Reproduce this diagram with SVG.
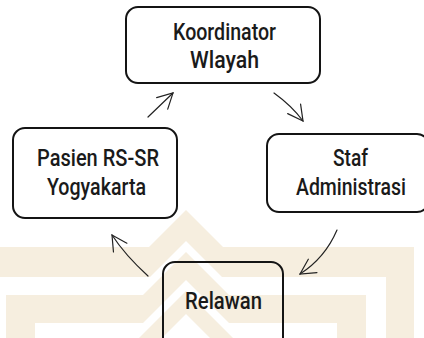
<svg xmlns="http://www.w3.org/2000/svg" width="424" height="338" viewBox="0 0 424 338">
<style>
.wm{fill:#f6eedf;stroke:none}
.box{fill:none;stroke:#141414;stroke-width:2}
.lbl{font-family:Roboto,"Liberation Sans",Arial,sans-serif;font-weight:500;font-size:24px;fill:#1a1a1a;text-anchor:middle}
.con{fill:none;stroke:#222;stroke-width:1.2;stroke-linecap:round}
</style>
<defs>
<marker id="ah" viewBox="-17 -10 19 20" refX="0" refY="0" markerWidth="19" markerHeight="20" markerUnits="userSpaceOnUse" orient="auto">
<path d="M-15,-8 L0,0 L-15,8" fill="none" stroke="#222" stroke-width="1.2" stroke-linecap="round"/>
</marker>
<g id="half">
<polygon class="wm" points="186,210 223,247 414,247 414,338 386,338 386,277 222,277 186,241"/>
<polygon class="wm" points="186,252 229,295 366,295 366,338 337,338 337,323 229,323 186,280"/>
<polygon class="wm" points="186,291 233,338 210,338 186,314"/>
</g>
</defs>
<rect width="424" height="338" fill="#ffffff"/>
<g id="watermark">
<use href="#half"/>
<use href="#half" transform="matrix(-1,0,0,1,372,0)"/>
</g>
<g id="connectors">
<path class="con" d="M148,117 L173,93" marker-end="url(#ah)"/>
<path class="con" d="M274,93 Q292,106 303,121" marker-end="url(#ah)"/>
<path class="con" d="M337,230 Q325,258 300,274" marker-end="url(#ah)"/>
<path class="con" d="M148,276 Q125,255 112,235" marker-end="url(#ah)"/>
</g>
<g id="koordinator">
<rect class="box" x="126" y="7" width="194" height="76" rx="12"/>
<text class="lbl" x="224.5" y="40" textLength="103" lengthAdjust="spacingAndGlyphs">Koordinator</text>
<text class="lbl" x="224.5" y="68" textLength="69" lengthAdjust="spacingAndGlyphs">Wlayah</text>
</g>
<g id="staf">
<rect class="box" x="267" y="134" width="162" height="78" rx="12"/>
<text class="lbl" x="350.5" y="166" textLength="35" lengthAdjust="spacingAndGlyphs">Staf</text>
<text class="lbl" x="351" y="195" textLength="110" lengthAdjust="spacingAndGlyphs">Administrasi</text>
</g>
<g id="relawan">
<rect class="box" x="163" y="262" width="120" height="92" rx="12"/>
<text class="lbl" x="223.5" y="309" textLength="77" lengthAdjust="spacingAndGlyphs">Relawan</text>
</g>
<g id="pasien">
<rect class="box" x="13" y="128" width="164" height="90" rx="12"/>
<text class="lbl" x="98" y="166" textLength="122" lengthAdjust="spacingAndGlyphs">Pasien RS-SR</text>
<text class="lbl" x="96.5" y="195" textLength="99" lengthAdjust="spacingAndGlyphs">Yogyakarta</text>
</g>
</svg>
